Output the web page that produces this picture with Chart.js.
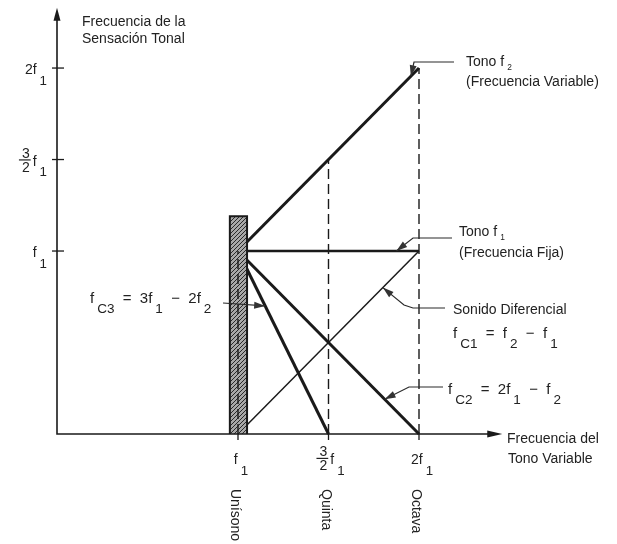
<!DOCTYPE html>
<html lang="es">
<head>
<meta charset="utf-8">
<title>Sonidos diferenciales</title>
<script src="https://cdn.jsdelivr.net/npm/chart.js@4.4.1/dist/chart.umd.min.js"></script>
<style>
  body { margin: 0; background: #fff; }
  canvas { display: block; }
</style>
</head>
<body>
<canvas id="grafico" width="617" height="544"></canvas>
<script>
// Todas las frecuencias van en múltiplos de f1

// Eje horizontal: posiciones del tono variable f2
const marcasX = [1, 1.5, 2];
const etiquetasX = ['f_1', '[3/2]f_1', '2f_1'];
const intervalos = ['Unísono', 'Quinta', 'Octava'];

// Eje vertical
const marcasY = [1, 1.5, 2];
const etiquetasY = ['f_1', '[3/2]f_1', '2f_1'];

// Extremos de cada recta: f2 va de f1 (unísono) a 2f1 (octava)
const f2Extremos = [1, 2];
const tonoF2 = [1, 2];            // f2
const tonoF1 = [1, 1];            // f1, fija
const diferencialC1 = [0, 1];     // fC1 = f2 - f1
const diferencialC2 = [1, 0];     // fC2 = 2f1 - f2
// fC3 = 3f1 - 2f2 se anula en la quinta
const c3Extremos = [1, 1.5];
const diferencialC3 = [1, 0];

// Zona de unísono (banda rayada) y largo de los ejes
const bandaX = [0.955, 1.05];
const bandaAlto = 1.19;
const ejeXFin = 2.46;
const ejeYFin = 2.33;

const FUENTE = '"Liberation Sans", Arial, Helvetica, sans-serif';
const TINTA = '#1a1a1a';

const pares = (xs, ys) => xs.map((x, i) => ({ x, y: ys[i] }));

function rayado() {
    const c = document.createElement('canvas');
    c.width = c.height = 4;
    const g = c.getContext('2d');
    g.fillStyle = '#a8a8a8';
    g.fillRect(0, 0, 4, 4);
    g.strokeStyle = '#2a2a2a';
    g.lineWidth = 1;
    g.beginPath();
    g.moveTo(0, 4); g.lineTo(4, 0);
    g.moveTo(-1, 1); g.lineTo(1, -1);
    g.moveTo(3, 5); g.lineTo(5, 3);
    g.stroke();
    return g.createPattern(c, 'repeat');
}

function recta(data, ancho, extra) {
    return Object.assign({
        data: data,
        showLine: true,
        pointRadius: 0,
        borderColor: TINTA,
        borderWidth: ancho,
        fill: false,
        clip: false,
        tension: 0,
        order: 1
    }, extra);
}

// Texto con subíndices (_x o _{xy}) y fracciones ([a/b])
function trozos(texto) {
    const out = [];
    const re = /_\{([^}]*)\}|_(.)|\[(\d+)\/(\d+)\]|([^_\[]+)/g;
    let m;
    while ((m = re.exec(texto))) {
        if (m[1] !== undefined) out.push({ t: m[1], sub: true });
        else if (m[2] !== undefined) out.push({ t: m[2], sub: true });
        else if (m[3] !== undefined) out.push({ num: m[3], den: m[4] });
        else out.push({ t: m[5] });
    }
    return out;
}

function textoRico(ctx, texto, x, y, tam, alinear, subEscala, subBaja) {
    subEscala = subEscala || 0.9;
    subBaja = subBaja === undefined ? 0.72 : subBaja;
    const partes = trozos(texto);
    const fuente = s => s + 'px ' + FUENTE;
    const anchos = partes.map(p => {
        ctx.font = fuente(p.sub ? tam * subEscala : tam);
        if (p.num) return Math.max(ctx.measureText(p.num).width, ctx.measureText(p.den).width) + 4;
        return ctx.measureText(p.t).width + (p.sub ? 3 : 0);
    });
    const total = anchos.reduce((a, b) => a + b, 0);
    let cx = alinear === 'right' ? x - total : alinear === 'center' ? x - total / 2 : x;
    ctx.textBaseline = 'alphabetic';
    partes.forEach((p, i) => {
        if (p.num) {
            const w = anchos[i];
            const barra = y - 0.4 * tam;
            ctx.font = fuente(tam);
            ctx.textAlign = 'center';
            ctx.fillText(p.num, cx + w / 2 - 1, barra - 2);
            ctx.fillText(p.den, cx + w / 2 - 1, barra + 2 + 0.72 * tam);
            ctx.fillRect(cx - 2, barra - 0.6, w, 1.2);
        } else {
            ctx.textAlign = 'left';
            ctx.font = fuente(p.sub ? tam * subEscala : tam);
            ctx.fillText(p.t, cx + (p.sub ? 3 : 0), p.sub ? y + subBaja * tam : y);
        }
        cx += anchos[i];
    });
    ctx.textAlign = 'left';
}

function punta(ctx, x0, y0, x1, y1, largo, ancho) {
    const a = Math.atan2(y1 - y0, x1 - x0);
    const bx = x1 - largo * Math.cos(a), by = y1 - largo * Math.sin(a);
    ctx.beginPath();
    ctx.moveTo(x1, y1);
    ctx.lineTo(bx + ancho * Math.sin(a), by - ancho * Math.cos(a));
    ctx.lineTo(bx - ancho * Math.sin(a), by + ancho * Math.cos(a));
    ctx.closePath();
    ctx.fill();
}

// Rótulos con flecha: texto en píxeles, punta sobre la recta (en unidades de f1)
const notas = [
    { lineas: ['Tono f_2', '(Frecuencia Variable)'], x: 466, y: [66, 86], chico: true,
      guia: [[454, 62], [414, 62]], sobre: [1.955, 1.955] },
    { lineas: ['Tono f_1', '(Frecuencia Fija)'], x: 459, y: [236, 257], chico: true,
      guia: [[452, 238], [413, 238]], sobre: [1.875, 1] },
    { lineas: ['Sonido Diferencial', 'f_{C1}  =  f_2  \u2212  f_1'], x: 453, y: [314, 338],
      guia: [[445, 308], [413, 308], [404, 305]], sobre: [1.8, 0.8] },
    { lineas: ['f_{C2}  =  2f_1  \u2212  f_2'], x: 448, y: [394],
      guia: [[443, 387], [409, 387]], sobre: [1.81, 0.19] },
    { lineas: ['f_{C3}  =  3f_1  \u2212  2f_2'], x: 90, y: [303],
      guia: [[223, 303]], sobre: [1.15, 0.7] }
];

const dibujo = {
    id: 'dibujo',
    afterDraw(chart) {
        const ctx = chart.ctx;
        const px = v => chart.scales.x.getPixelForValue(v);
        const py = v => chart.scales.y.getPixelForValue(v);
        const x0 = px(0), y0 = py(0);

        ctx.save();
        ctx.strokeStyle = TINTA;
        ctx.fillStyle = TINTA;
        ctx.lineWidth = 1.6;

        // Ejes con flecha
        ctx.beginPath();
        ctx.moveTo(x0, py(ejeYFin) + 6);
        ctx.lineTo(x0, y0);
        ctx.lineTo(px(ejeXFin) - 6, y0);
        ctx.stroke();
        punta(ctx, x0, y0, x0, py(ejeYFin), 13, 3.5);
        punta(ctx, x0, y0, px(ejeXFin), y0, 15, 3.5);

        // Marcas
        ctx.lineWidth = 1.3;
        marcasY.forEach(v => {
            ctx.beginPath();
            ctx.moveTo(x0 - 5, py(v));
            ctx.lineTo(x0 + 7, py(v));
            ctx.stroke();
        });
        marcasX.forEach(v => {
            ctx.beginPath();
            ctx.moveTo(px(v), y0);
            ctx.lineTo(px(v), y0 + 6);
            ctx.stroke();
        });

        // Etiquetas de las marcas
        ctx.fillStyle = '#222';
        etiquetasY.forEach((t, i) => textoRico(ctx, t, 47, py(marcasY[i]) + 6, 14, 'right', 0.95, 0.75));
        etiquetasX.forEach((t, i) => textoRico(ctx, t, px(marcasX[i]) + 3, y0 + 30, 14, 'center', 0.95, 0.75));

        ctx.font = '14px ' + FUENTE;
        intervalos.forEach((t, i) => {
            ctx.save();
            ctx.translate(px(marcasX[i]) - 3, y0 + 55);
            ctx.rotate(Math.PI / 2);
            ctx.textAlign = 'left';
            ctx.textBaseline = 'middle';
            ctx.fillText(t, 0, 0);
            ctx.restore();
        });

        // Títulos de los ejes
        ctx.textAlign = 'left';
        ctx.textBaseline = 'alphabetic';
        ctx.fillText('Frecuencia de la', 82, 26);
        ctx.fillText('Sensación Tonal', 82, 43);
        ctx.fillText('Frecuencia del', 507, 443);
        ctx.fillText('Tono Variable', 508, 463);

        // Rótulos con flecha; las fórmulas van algo más grandes
        notas.forEach(n => {
            n.lineas.forEach((t, i) => {
                if (n.chico) textoRico(ctx, t, n.x, n.y[i], 14, 'left', 0.6, 0.25);
                else if (t.indexOf('=') < 0) textoRico(ctx, t, n.x, n.y[i], 14, 'left');
                else textoRico(ctx, t, n.x, n.y[i], 15, 'left', 0.9, 0.68);
            });
            const tx = px(n.sobre[0]), ty = py(n.sobre[1]);
            const camino = n.guia.concat([[tx, ty]]);
            ctx.strokeStyle = '#2a2a2a';
            ctx.lineWidth = 1.2;
            ctx.beginPath();
            camino.forEach((p, i) => (i ? ctx.lineTo(p[0], p[1]) : ctx.moveTo(p[0], p[1])));
            ctx.stroke();
            const previo = camino[camino.length - 2];
            ctx.fillStyle = '#333';
            punta(ctx, previo[0], previo[1], tx, ty, 11, 3.5);
            ctx.fillStyle = '#222';
        });

        ctx.restore();
    }
};

const guias = marcasX.map(v => recta([{ x: v, y: 0 }, { x: v, y: v }], 1.4, { borderDash: [10, 5], order: -1 }));

const datasets = [
    recta([{ x: bandaX[0], y: 0 }, { x: bandaX[0], y: bandaAlto }, { x: bandaX[1], y: bandaAlto }, { x: bandaX[1], y: 0 }], 2,
        { fill: 'origin', backgroundColor: rayado(), order: 0 }),
    recta(pares(f2Extremos, tonoF2), 3),
    recta(pares(f2Extremos, tonoF1), 2.4),
    recta(pares(f2Extremos, diferencialC1), 1.5),
    recta(pares(f2Extremos, diferencialC2), 3),
    recta(pares(c3Extremos, diferencialC3), 3)
].concat(guias);

new Chart(document.getElementById('grafico'), {
    type: 'line',
    data: { datasets: datasets },
    options: {
        responsive: false,
        animation: false,
        devicePixelRatio: 1,
        layout: { padding: { left: 57, right: 17, top: 4, bottom: 110 } },
        scales: {
            x: { type: 'linear', min: 0, max: 3, display: false },
            y: { type: 'linear', min: 0, max: 2.35, display: false }
        },
        plugins: {
            legend: { display: false },
            tooltip: { enabled: false }
        }
    },
    plugins: [dibujo]
});
</script>
</body>
</html>
